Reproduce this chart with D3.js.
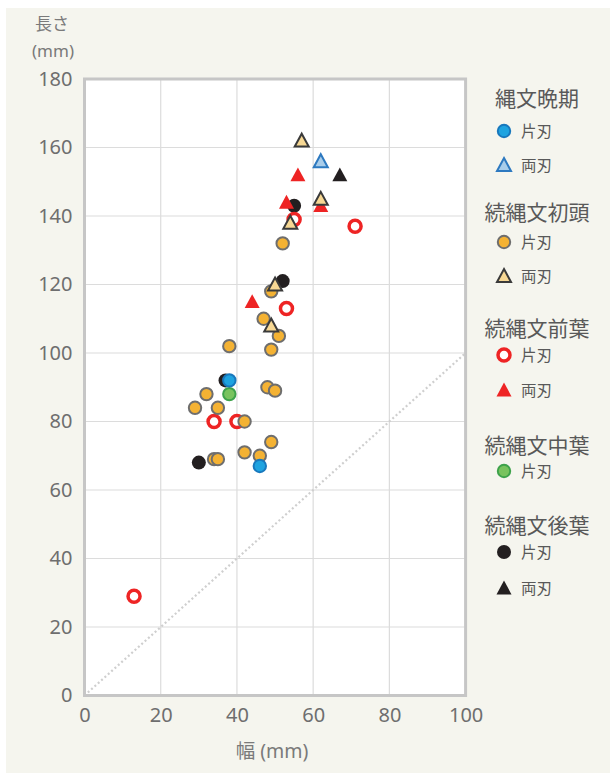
<!DOCTYPE html>
<html>
<head>
<meta charset="utf-8">
<script src="https://cdn.jsdelivr.net/npm/d3@7"></script>
<style>
  body { margin: 0; background: #ffffff; }
  text { font-family: "Noto Sans", "Noto Sans CJK JP", sans-serif; }
</style>
</head>
<body>
<script>
// values, [width, length] in mm
const bansoKata = [[38, 92], [46, 67]];
const bansoRyo = [[62, 156]];
const shotoKata = [[52, 132], [49, 118], [47, 110], [51, 105], [38, 102], [49, 101],
  [48, 90], [50, 89], [32, 88], [29, 84], [35, 84], [42, 80], [49, 74], [42, 71],
  [46, 70], [34, 69], [35, 69]];
const shotoRyo = [[57, 162], [62, 145], [54, 138], [50, 120], [49, 108]];
const zenyoKata = [[55, 139], [71, 137], [53, 113], [34, 80], [40, 80], [13, 29]];
const zenyoRyo = [[56, 152], [53, 144], [62, 143], [44, 115]];
const chuyoKata = [[38, 88]];
const koyoKata = [[55, 143], [52, 121], [37, 92], [30, 68]];
const koyoRyo = [[67, 152]];

const xTicks = [0, 20, 40, 60, 80, 100];
const yTicks = [0, 20, 40, 60, 80, 100, 120, 140, 160, 180];

const width = 610;
const height = 773;
const plot = { left: 84.5, right: 465.6, top: 79, bottom: 695.5 };

const svg = d3.select("body").append("svg")
  .attr("width", width)
  .attr("height", height);

// beige panel
svg.append("rect")
  .attr("x", 6).attr("y", 8)
  .attr("width", width - 6).attr("height", height - 8)
  .attr("fill", "#f5f5ee");

const x = d3.scaleLinear().domain([0, 100]).range([plot.left, plot.right]);
const y = d3.scaleLinear().domain([0, 180]).range([plot.bottom, plot.top]);

svg.append("rect")
  .attr("x", plot.left).attr("y", plot.top)
  .attr("width", plot.right - plot.left).attr("height", plot.bottom - plot.top)
  .attr("fill", "#ffffff");

// grid
svg.append("g").selectAll("line")
  .data(yTicks.slice(1, -1))
  .join("line")
  .attr("x1", plot.left).attr("x2", plot.right)
  .attr("y1", (d) => y(d)).attr("y2", (d) => y(d))
  .attr("stroke", "#dcdcdc").attr("stroke-width", 1.2);

svg.append("g").selectAll("line")
  .data(xTicks.slice(1, -1))
  .join("line")
  .attr("y1", plot.top).attr("y2", plot.bottom)
  .attr("x1", (d) => x(d)).attr("x2", (d) => x(d))
  .attr("stroke", "#dcdcdc").attr("stroke-width", 1.2);

// 1:1 line
svg.append("line")
  .attr("x1", x(0)).attr("y1", y(0))
  .attr("x2", x(100)).attr("y2", y(100))
  .attr("stroke", "#cfcfcf").attr("stroke-width", 2.2)
  .attr("stroke-dasharray", "2,2.5");

// frame
svg.append("rect")
  .attr("x", plot.left).attr("y", plot.top)
  .attr("width", plot.right - plot.left).attr("height", plot.bottom - plot.top)
  .attr("fill", "none")
  .attr("stroke", "#c6c6c6").attr("stroke-width", 3);

// axes (labels only)
const xAxis = svg.append("g")
  .attr("transform", `translate(0,${plot.bottom})`)
  .call(d3.axisBottom(x).tickValues(xTicks).tickSize(0).tickPadding(12.5));
const yAxis = svg.append("g")
  .attr("transform", `translate(${plot.left},0)`)
  .call(d3.axisLeft(y).tickValues(yTicks).tickSize(0).tickPadding(12));
[xAxis, yAxis].forEach((g) => {
  g.select(".domain").remove();
  g.selectAll("text")
    .attr("fill", "#6e6e6e")
    .style("font-size", "20px");
});

svg.append("text")
  .attr("x", 272).attr("y", 758)
  .attr("text-anchor", "middle")
  .attr("fill", "#7a7a7a")
  .style("font-size", "19.5px")
  .text("幅 (mm)");

svg.append("text")
  .attr("x", 52).attr("y", 30)
  .attr("text-anchor", "middle")
  .attr("fill", "#7a7a7a")
  .style("font-size", "17px")
  .text("長さ");
svg.append("text")
  .attr("x", 53).attr("y", 57)
  .attr("text-anchor", "middle")
  .attr("fill", "#7a7a7a")
  .style("font-size", "17px")
  .text("(mm)");

// marker styles
const styles = {
  bansoKata: { shape: "circle", fill: "#1ea3e0", stroke: "#1878bd", sw: 2 },
  bansoRyo: { shape: "tri", fill: "#a9cdea", stroke: "#2d79c0", sw: 2 },
  shotoKata: { shape: "circle", fill: "#f4b233", stroke: "#6e6e6e", sw: 2 },
  shotoRyo: { shape: "tri", fill: "#f7d894", stroke: "#3a3a3a", sw: 2 },
  zenyoKata: { shape: "ring", fill: "#ffffff", stroke: "#ee2424", sw: 3.5 },
  zenyoRyo: { shape: "tri", fill: "#ee2424", stroke: "none", sw: 0 },
  chuyoKata: { shape: "circle", fill: "#78c35e", stroke: "#3ea24b", sw: 2 },
  koyoKata: { shape: "circle", fill: "#231f20", stroke: "none", sw: 0 },
  koyoRyo: { shape: "tri", fill: "#231f20", stroke: "none", sw: 0 },
};

function drawMarker(g, st, cx, cy) {
  if (st.shape === "tri") {
    const big = st.stroke !== "none";
    const s = big ? 7 : 7.5;
    g.append("path")
      .attr("d", `M${cx},${cy - s}L${cx + s},${cy + s * 0.85}L${cx - s},${cy + s * 0.85}Z`)
      .attr("fill", st.fill)
      .attr("stroke", st.stroke)
      .attr("stroke-width", st.sw)
      .attr("stroke-linejoin", "miter");
  } else {
    const r = st.shape === "ring" ? 6 : (st.stroke === "none" ? 7 : 6.2);
    g.append("circle")
      .attr("cx", cx).attr("cy", cy).attr("r", r)
      .attr("fill", st.fill)
      .attr("stroke", st.stroke)
      .attr("stroke-width", st.sw);
  }
}

// draw order so overlaps look like the source
const layers = [
  [koyoKata, "koyoKata"], [koyoRyo, "koyoRyo"], [chuyoKata, "chuyoKata"],
  [zenyoKata, "zenyoKata"], [zenyoRyo, "zenyoRyo"], [shotoKata, "shotoKata"],
  [bansoKata, "bansoKata"], [bansoRyo, "bansoRyo"], [shotoRyo, "shotoRyo"],
];
const pts = svg.append("g");
layers.forEach(([data, key]) => {
  data.forEach((d) => drawMarker(pts, styles[key], x(d[0]), y(d[1])));
});

// legend
const legend = [
  { title: "縄文晩期", ty: 98, items: [["片刃", "bansoKata", 131], ["両刃", "bansoRyo", 165]] },
  { title: "続縄文初頭", ty: 212, items: [["片刃", "shotoKata", 242], ["両刃", "shotoRyo", 276]] },
  { title: "続縄文前葉", ty: 328, items: [["片刃", "zenyoKata", 355], ["両刃", "zenyoRyo", 390]] },
  { title: "続縄文中葉", ty: 445, items: [["片刃", "chuyoKata", 471]] },
  { title: "続縄文後葉", ty: 525, items: [["片刃", "koyoKata", 552], ["両刃", "koyoRyo", 588]] },
];
const lg = svg.append("g");
legend.forEach((grp) => {
  lg.append("text")
    .attr("x", 537).attr("y", grp.ty)
    .attr("dy", "0.36em")
    .attr("text-anchor", "middle")
    .attr("fill", "#595959")
    .style("font-size", "21px")
    .text(grp.title);
  grp.items.forEach(([label, key, iy]) => {
    drawMarker(lg, styles[key], 504, iy);
    lg.append("text")
      .attr("x", 521).attr("y", iy)
      .attr("dy", "0.36em")
      .attr("fill", "#595959")
      .style("font-size", "15.5px")
      .text(label);
  });
});
</script>
</body>
</html>
